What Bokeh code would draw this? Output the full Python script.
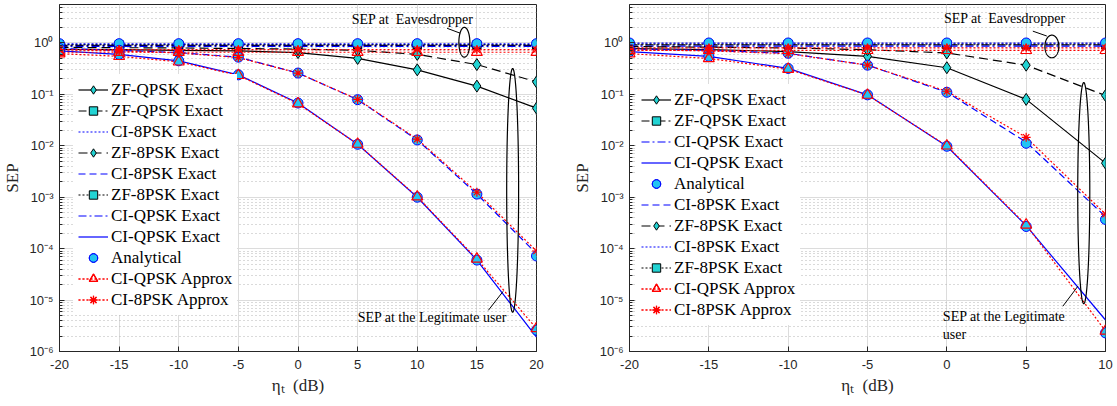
import numpy as np
from bokeh.plotting import figure
from bokeh.layouts import row
from bokeh.models import (Range1d, FixedTicker, CustomJSTickFormatter, Legend, LegendItem, Label)
from bokeh.embed import file_html
from bokeh.resources import INLINE

# ---------------- data: left panel (eta_t from -20 to 20 dB) ----------------
snr_a = [-20, -15, -10, -5, 0, 5, 10, 15, 20]
# legitimate user
a_zfq_leg = [0.75, 0.74, 0.72, 0.70, 0.65, 0.50, 0.30, 0.145, 0.054]
a_zf8_leg = [0.82, 0.81, 0.80, 0.78, 0.76, 0.72, 0.60, 0.38, 0.175]
a_ciq_leg = [0.70, 0.60, 0.45, 0.24, 0.068, 0.0107, 1.0e-3, 6.0e-5, 1.9e-6]
a_ci8_leg = [0.78, 0.72, 0.65, 0.53, 0.26, 0.079, 0.013, 1.15e-3, 8.0e-5]
a_ciq_leg_apx = [0.62, 0.55, 0.43, 0.235, 0.066, 0.0108, 1.02e-3, 6.3e-5, 2.8e-6]
a_ci8_leg_apx = [0.74, 0.70, 0.64, 0.52, 0.26, 0.080, 0.0135, 1.25e-3, 9.0e-5]
a_ana_ciq = [0.70, 0.60, 0.45, 0.24, 0.068, 0.0107, 1.0e-3, 6.0e-5, 2.6e-6]
a_ana_ci8 = [0.78, 0.72, 0.65, 0.53, 0.26, 0.079, 0.013, 1.15e-3, 7.2e-5]
# eavesdropper
a_zfq_eve = [0.90, 0.90, 0.90, 0.90, 0.90, 0.90, 0.90, 0.90, 0.90]
a_zf8_eve = [0.93, 0.93, 0.93, 0.93, 0.93, 0.93, 0.93, 0.93, 0.93]
a_ciq_eve = [0.86, 0.86, 0.86, 0.86, 0.86, 0.86, 0.86, 0.86, 0.86]
a_ci8_eve = [0.96, 0.96, 0.96, 0.96, 0.96, 0.96, 0.96, 0.96, 0.96]
a_ciq_eve_apx = [0.66, 0.66, 0.66, 0.66, 0.66, 0.66, 0.66, 0.66, 0.66]
a_ci8_eve_apx = [0.74, 0.74, 0.74, 0.74, 0.74, 0.74, 0.74, 0.74, 0.74]
a_ana_eve = [0.97, 0.97, 0.97, 0.97, 0.97, 0.97, 0.97, 0.97, 0.97]

# ---------------- data: right panel (eta_t from -20 to 10 dB) ----------------
snr_b = [-20, -15, -10, -5, 0, 5, 10]
b_zfq_leg = [0.78, 0.74, 0.68, 0.55, 0.33, 0.080, 4.6e-3]
b_zf8_leg = [0.85, 0.83, 0.80, 0.74, 0.64, 0.37, 0.095]
b_ciq_leg = [0.68, 0.55, 0.32, 0.098, 9.8e-3, 2.8e-4, 4.1e-6]
b_ci8_leg = [0.76, 0.72, 0.63, 0.37, 0.11, 0.0118, 4.2e-4]
b_ciq_leg_apx = [0.62, 0.50, 0.31, 0.097, 0.0100, 2.9e-4, 2.5e-6]
b_ci8_leg_apx = [0.74, 0.70, 0.62, 0.37, 0.115, 0.0146, 4.7e-4]
b_ana_ciq = [0.68, 0.55, 0.32, 0.098, 9.8e-3, 2.7e-4, 2.3e-6]
b_ana_ci8 = [0.76, 0.72, 0.63, 0.37, 0.11, 0.0112, 3.7e-4]
b_zfq_eve = [0.92, 0.92, 0.92, 0.92, 0.92, 0.92, 0.92]
b_zf8_eve = [0.95, 0.95, 0.95, 0.95, 0.95, 0.95, 0.95]
b_ciq_eve = [0.87, 0.87, 0.87, 0.87, 0.87, 0.87, 0.87]
b_ci8_eve = [0.99, 0.99, 0.99, 0.99, 0.99, 0.99, 0.99]
b_ciq_eve_apx = [0.72, 0.72, 0.72, 0.72, 0.72, 0.72, 0.72]
b_ci8_eve_apx = [0.80, 0.80, 0.80, 0.80, 0.80, 0.80, 0.80]
b_ana_eve = [1.0, 1.0, 1.0, 1.0, 1.0, 1.0, 1.0]

x_ticks_a = [-20, -15, -10, -5, 0, 5, 10, 15, 20]
x_ticks_b = [-20, -15, -10, -5, 0, 5, 10]
y_ticks = [1e-6, 1e-5, 1e-4, 1e-3, 1e-2, 1e-1, 1e0]
y_minor = [k * 10.0 ** e for e in range(-6, 1) for k in range(2, 10)]

AX = "#262626"
CYAN_D = "#22d3d3"
CYAN_C = "#22c4f2"
DASHED = "7 4"
DASHDOT = "8 3 2 3"
DOTTED = "2 2"
NB = "\u00a0"


def sup_formatter():
    return CustomJSTickFormatter(code="""
const sup = {'-': '\\u207b', '0': '\\u2070', '1': '\\u00b9', '2': '\\u00b2', '3': '\\u00b3',
             '4': '\\u2074', '5': '\\u2075', '6': '\\u2076', '7': '\\u2077', '8': '\\u2078', '9': '\\u2079'};
const e = Math.round(Math.log10(tick));
return '10' + String(e).split('').map(c => sup[c]).join('');
""")


def plain_formatter():
    return CustomJSTickFormatter(code="return String(Math.round(tick));")


def ellipse(p, cx, ly, a, b):
    t = np.linspace(0, 2 * np.pi, 200)
    p.line(cx + a * np.cos(t), 10 ** (ly + b * np.sin(t)), color="black", line_width=1.2)


def note(p, x, ly, text):
    p.add_layout(Label(x=x, y=10 ** ly, text=text, text_font="Liberation Serif",
                       text_font_size="14px", text_color="black", text_baseline="middle"))


def panel(snr, d, order, width, x_end, x_ticks, borders, legend_xy):
    bl, br, bt, bb = borders
    p = figure(width=width, height=406, y_axis_type="log",
               x_range=Range1d(-20, x_end), y_range=Range1d(1e-6, 5.6),
               output_backend="svg", toolbar_location=None,
               min_border_left=bl, min_border_right=br, min_border_top=bt, min_border_bottom=bb,
               background_fill_color="white", border_fill_color="white")
    p.outline_line_color = AX
    p.outline_line_width = 1

    xa, ya = p.xaxis[0], p.yaxis[0]
    xa.ticker = FixedTicker(ticks=x_ticks)
    xa.formatter = plain_formatter()
    ya.ticker = FixedTicker(ticks=y_ticks, minor_ticks=y_minor)
    ya.formatter = sup_formatter()
    for ax in (xa, ya):
        ax.axis_line_color = AX
        ax.major_tick_line_color = AX
        ax.minor_tick_line_color = AX
        ax.major_tick_in, ax.major_tick_out = 5, 0
        ax.minor_tick_in, ax.minor_tick_out = 3, 0
        ax.major_label_text_font = "Liberation Sans"
        ax.major_label_text_font_size = "13px"
        ax.major_label_text_color = AX
        ax.axis_label_text_font = "Liberation Serif"
        ax.axis_label_text_font_style = "normal"
        ax.axis_label_text_color = AX
    xa.minor_tick_line_color = None
    xa.major_label_standoff = 8
    xa.axis_label = "\u03b7\u209c" + NB + NB + "(dB)"
    xa.axis_label_text_font_size = "17px"
    xa.axis_label_standoff = 4
    ya.major_label_standoff = 6
    ya.axis_label = "SEP"
    ya.axis_label_text_font_size = "17px"
    ya.axis_label_standoff = 4

    p.xgrid.grid_line_color = "#dcdcdc"
    p.ygrid.grid_line_color = "#dcdcdc"
    p.ygrid.minor_grid_line_color = "#b4b4b4"
    p.ygrid.minor_grid_line_dash = "1 3"

    R = {}
    lw = 1.2
    # lines
    R["zfq_eve_l"] = p.line(snr, d["zfq_eve"], color="black", line_width=lw, line_dash=DASHDOT)
    R["zf8_eve_l"] = p.line(snr, d["zf8_eve"], color="black", line_width=lw, line_dash=DOTTED)
    R["ciq_eve_l"] = p.line(snr, d["ciq_eve"], color="blue", line_width=lw, line_dash=DASHDOT)
    R["ci8_eve_l"] = p.line(snr, d["ci8_eve"], color="blue", line_width=lw, line_dash=DOTTED)
    R["zfq_leg_l"] = p.line(snr, d["zfq_leg"], color="black", line_width=lw)
    R["zf8_leg_l"] = p.line(snr, d["zf8_leg"], color="black", line_width=lw, line_dash="9 5")
    R["ciq_leg_l"] = p.line(snr, d["ciq_leg"], color="blue", line_width=lw)
    R["ci8_leg_l"] = p.line(snr, d["ci8_leg"], color="blue", line_width=lw, line_dash=DASHED)
    R["ciq_apx_l"] = p.line(snr, d["ciq_leg_apx"], color="red", line_width=lw, line_dash=DOTTED)
    R["ci8_apx_l"] = p.line(snr, d["ci8_leg_apx"], color="red", line_width=lw, line_dash=DOTTED)
    R["ciq_apx_le"] = p.line(snr, d["ciq_eve_apx"], color="red", line_width=lw, line_dash=DOTTED)
    R["ci8_apx_le"] = p.line(snr, d["ci8_eve_apx"], color="red", line_width=lw, line_dash=DOTTED)

    # markers
    sq = dict(marker="square", size=8, fill_color=CYAN_D, line_color="black", line_width=1)
    dm = dict(marker="diamond", size=12, fill_color=CYAN_D, line_color="black", line_width=1)
    R["zfq_eve_m"] = p.scatter(snr, d["zfq_eve"], **sq)
    R["zf8_eve_m"] = p.scatter(snr, d["zf8_eve"], **sq)
    R["zfq_leg_m"] = p.scatter(snr, d["zfq_leg"], **dm)
    R["zf8_leg_m"] = p.scatter(snr, d["zf8_leg"], **dm)
    ci = dict(marker="circle", size=10, fill_color=CYAN_C, line_color="blue", line_width=1)
    R["ana1"] = p.scatter(snr, d["ana_eve"], **ci)
    R["ana2"] = p.scatter(snr, d["ana_ci8"], **ci)
    R["ana3"] = p.scatter(snr, d["ana_ciq"], **ci)
    tr = dict(marker="triangle", size=11, fill_alpha=0, line_color="red", line_width=1.2)
    R["ciq_apx_m"] = p.scatter(snr, d["ciq_leg_apx"], **tr)
    R["ciq_apx_me"] = p.scatter(snr, d["ciq_eve_apx"], **tr)
    st = dict(marker="asterisk", size=9, line_color="red", line_width=1.2)
    R["ci8_apx_m"] = p.scatter(snr, d["ci8_leg_apx"], **st)
    R["ci8_apx_me"] = p.scatter(snr, d["ci8_eve_apx"], **st)

    entries = {
        "zfq_leg": ("ZF-QPSK Exact", [R["zfq_leg_l"], R["zfq_leg_m"]]),
        "zfq_eve": ("ZF-QPSK Exact", [R["zfq_eve_l"], R["zfq_eve_m"]]),
        "zf8_leg": ("ZF-8PSK Exact", [R["zf8_leg_l"], R["zf8_leg_m"]]),
        "zf8_eve": ("ZF-8PSK Exact", [R["zf8_eve_l"], R["zf8_eve_m"]]),
        "ciq_leg": ("CI-QPSK Exact", [R["ciq_leg_l"]]),
        "ciq_eve": ("CI-QPSK Exact", [R["ciq_eve_l"]]),
        "ci8_leg": ("CI-8PSK Exact", [R["ci8_leg_l"]]),
        "ci8_eve": ("CI-8PSK Exact", [R["ci8_eve_l"]]),
        "ana": ("Analytical", [R["ana1"], R["ana2"], R["ana3"]]),
        "ciq_apx": ("CI-QPSK Approx", [R["ciq_apx_l"], R["ciq_apx_le"], R["ciq_apx_m"], R["ciq_apx_me"]]),
        "ci8_apx": ("CI-8PSK Approx", [R["ci8_apx_l"], R["ci8_apx_le"], R["ci8_apx_m"], R["ci8_apx_me"]]),
    }
    items = [LegendItem(label=entries[k][0], renderers=entries[k][1]) for k in order]
    lg = Legend(items=items, location=legend_xy, label_text_font="Liberation Serif",
                label_text_font_size="17px", label_text_color="black",
                glyph_width=30, glyph_height=21, label_height=21, spacing=0,
                padding=5, margin=0, label_standoff=3,
                border_line_alpha=0, background_fill_color="white", background_fill_alpha=1)
    p.add_layout(lg)
    return p


data_a = dict(zfq_leg=a_zfq_leg, zf8_leg=a_zf8_leg, ciq_leg=a_ciq_leg, ci8_leg=a_ci8_leg,
              ciq_leg_apx=a_ciq_leg_apx, ci8_leg_apx=a_ci8_leg_apx,
              ana_ciq=a_ana_ciq, ana_ci8=a_ana_ci8, ana_eve=a_ana_eve,
              zfq_eve=a_zfq_eve, zf8_eve=a_zf8_eve, ciq_eve=a_ciq_eve, ci8_eve=a_ci8_eve,
              ciq_eve_apx=a_ciq_eve_apx, ci8_eve_apx=a_ci8_eve_apx)
data_b = dict(zfq_leg=b_zfq_leg, zf8_leg=b_zf8_leg, ciq_leg=b_ciq_leg, ci8_leg=b_ci8_leg,
              ciq_leg_apx=b_ciq_leg_apx, ci8_leg_apx=b_ci8_leg_apx,
              ana_ciq=b_ana_ciq, ana_ci8=b_ana_ci8, ana_eve=b_ana_eve,
              zfq_eve=b_zfq_eve, zf8_eve=b_zf8_eve, ciq_eve=b_ciq_eve, ci8_eve=b_ci8_eve,
              ciq_eve_apx=b_ciq_eve_apx, ci8_eve_apx=b_ci8_eve_apx)

order_a = ["zfq_leg", "zfq_eve", "ci8_eve", "zf8_leg", "ci8_leg", "zf8_eve",
           "ciq_eve", "ciq_leg", "ana", "ciq_apx", "ci8_apx"]
order_b = ["zfq_leg", "zfq_eve", "ciq_eve", "ciq_leg", "ana", "ci8_leg",
           "zf8_leg", "ci8_eve", "zf8_eve", "ciq_apx", "ci8_apx"]

p1 = panel(snr_a, data_a, order_a, 560, 20, x_ticks_a, (59, 24, 4, 55), (14, 36))
p2 = panel(snr_b, data_b, order_b, 557, 10, x_ticks_b, (69, 12, 1, 55), (7, 26))

# callouts for the two groups of curves
note(p1, 4.5, 0.46, "SEP at" + NB + NB + "Eavesdropper")
p1.line([12.5, 13.6], [10 ** 0.286, 10 ** 0.19], color="black", line_width=1)
ellipse(p1, 13.95, 0.014, 0.46, 0.29)
ellipse(p1, 18.0, -2.866, 0.5, 2.37)
note(p1, 5.0, -5.34, "SEP at the Legitimate user")
p1.line([15.96, 17.2], [10 ** -5.2, 10 ** -4.83], color="black", line_width=1)

note(p2, -0.18, 0.48, "SEP at" + NB + NB + "Eavesdropper")
p2.line([5.42, 6.3], [10 ** 0.23, 10 ** 0.135], color="black", line_width=1)
ellipse(p2, 6.62, -0.068, 0.44, 0.22)
ellipse(p2, 8.63, -2.92, 0.38, 2.15)
note(p2, -0.25, -5.31, "SEP at the Legitimate")
note(p2, -0.25, -5.66, "user")
p2.line([7.31, 8.26], [10 ** -5.12, 10 ** -4.73], color="black", line_width=1)

layout = row(p1, p2)
open("out.html", "w").write(file_html(layout, INLINE))
